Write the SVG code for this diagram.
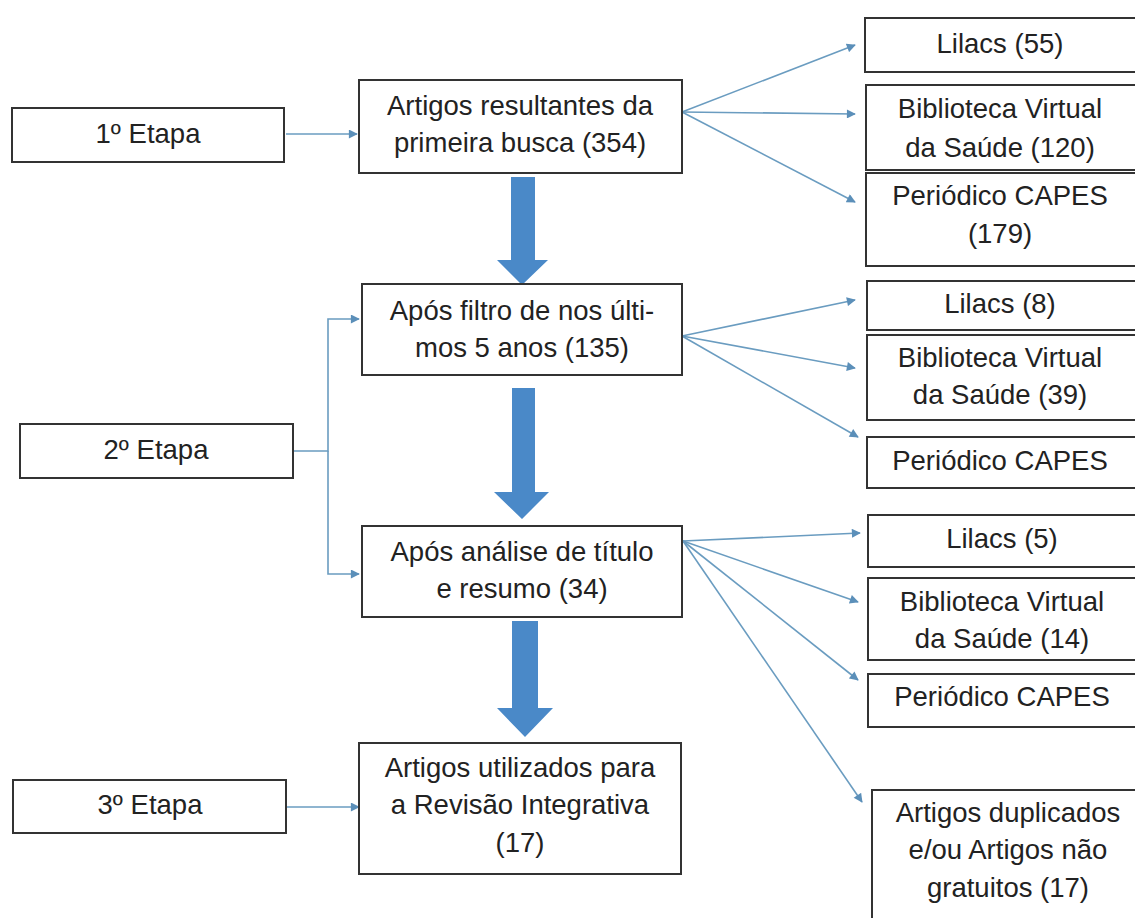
<svg xmlns="http://www.w3.org/2000/svg" width="1135" height="918" viewBox="0 0 1135 918">
<style>
.box{fill:#fff;stroke:#333;stroke-width:2}
.t{font-family:"Liberation Sans",Arial,sans-serif;font-size:27.5px;fill:#222;text-anchor:middle}
.c{fill:none;stroke:#6a9cc0;stroke-width:1.6}
.big{fill:#4a89c8}
</style>
<defs>
<marker id="ah" viewBox="0 0 10 10" refX="9" refY="5" markerWidth="10" markerHeight="9" markerUnits="userSpaceOnUse" orient="auto">
<path d="M0,0 L10,5 L0,10 z" fill="#5b8fb9"/>
</marker>
</defs>
<rect width="1135" height="918" fill="#fff"/>

<g id="connectors">
<path class="c" d="M286,134 L357,134" marker-end="url(#ah)"/>
<path class="c" d="M682,112 L855,45" marker-end="url(#ah)"/>
<path class="c" d="M682,112 L855,114" marker-end="url(#ah)"/>
<path class="c" d="M682,112 L855,202" marker-end="url(#ah)"/>
<path class="c" d="M293,451 L328,451 L328,319 L359,319" marker-end="url(#ah)"/>
<path class="c" d="M328,451 L328,574 L359,574" marker-end="url(#ah)"/>
<path class="c" d="M682,336 L855,300" marker-end="url(#ah)"/>
<path class="c" d="M682,336 L855,368" marker-end="url(#ah)"/>
<path class="c" d="M682,336 L858,437" marker-end="url(#ah)"/>
<path class="c" d="M683,541 L860,533" marker-end="url(#ah)"/>
<path class="c" d="M683,541 L858,602" marker-end="url(#ah)"/>
<path class="c" d="M683,541 L858,680" marker-end="url(#ah)"/>
<path class="c" d="M683,541 L862,802" marker-end="url(#ah)"/>
<path class="c" d="M287,807 L359,807" marker-end="url(#ah)"/>
<path class="big" d="M511,177 L535,177 L535,260 L548,260 L522,285 L497,260 L511,260 z"/>
<path class="big" d="M512,388 L535,388 L535,492 L549,492 L522,519 L494,492 L512,492 z"/>
<path class="big" d="M512,621 L538,621 L538,708 L553,708 L525,737 L497,708 L512,708 z"/>
</g>

<g id="etapa1"><rect class="box" x="12" y="108" width="272" height="54"/><text class="t" x="148" y="143">1º Etapa</text></g>
<g id="etapa2"><rect class="box" x="20" y="424" width="273" height="54"/><text class="t" x="156" y="459">2º Etapa</text></g>
<g id="etapa3"><rect class="box" x="13" y="780" width="273" height="53"/><text class="t" x="150" y="814">3º Etapa</text></g>

<g id="busca"><rect class="box" x="359" y="80" width="323" height="93"/><text class="t" x="520" y="115">Artigos resultantes da</text><text class="t" x="520" y="152">primeira busca (354)</text></g>
<g id="filtro"><rect class="box" x="362" y="284" width="320" height="91"/><text class="t" x="522" y="320">Após filtro de nos últi-</text><text class="t" x="522" y="357">mos 5 anos (135)</text></g>
<g id="analise"><rect class="box" x="362" y="526" width="320" height="91"/><text class="t" x="522" y="561">Após análise de título</text><text class="t" x="522" y="598">e resumo (34)</text></g>
<g id="utilizados"><rect class="box" x="359" y="743" width="322" height="131"/><text class="t" x="520" y="777">Artigos utilizados para</text><text class="t" x="520" y="814">a Revisão Integrativa</text><text class="t" x="520" y="852">(17)</text></g>

<g id="lilacs55"><rect class="box" x="865" y="18" width="280" height="54"/><text class="t" x="1000" y="53">Lilacs (55)</text></g>
<g id="bvs120"><rect class="box" x="866" y="85" width="280" height="85"/><text class="t" x="1000" y="118">Biblioteca Virtual</text><text class="t" x="1000" y="157">da Saúde (120)</text></g>
<g id="capes179"><rect class="box" x="866" y="173" width="280" height="93"/><text class="t" x="1000" y="205">Periódico CAPES</text><text class="t" x="1000" y="243">(179)</text></g>

<g id="lilacs8"><rect class="box" x="867" y="281" width="280" height="49"/><text class="t" x="1000" y="313">Lilacs (8)</text></g>
<g id="bvs39"><rect class="box" x="867" y="335" width="280" height="85"/><text class="t" x="1000" y="367">Biblioteca Virtual</text><text class="t" x="1000" y="404">da Saúde (39)</text></g>
<g id="capes2"><rect class="box" x="867" y="437" width="280" height="51"/><text class="t" x="1000" y="470">Periódico CAPES</text></g>

<g id="lilacs5"><rect class="box" x="868" y="515" width="280" height="52"/><text class="t" x="1002" y="548">Lilacs (5)</text></g>
<g id="bvs14"><rect class="box" x="868" y="578" width="280" height="82"/><text class="t" x="1002" y="611">Biblioteca Virtual</text><text class="t" x="1002" y="648">da Saúde (14)</text></g>
<g id="capes3"><rect class="box" x="868" y="674" width="280" height="53"/><text class="t" x="1002" y="706">Periódico CAPES</text></g>
<g id="duplicados"><rect class="box" x="872" y="790" width="280" height="140"/><text class="t" x="1008" y="822">Artigos duplicados</text><text class="t" x="1008" y="859">e/ou Artigos não</text><text class="t" x="1008" y="897">gratuitos (17)</text></g>
</svg>
